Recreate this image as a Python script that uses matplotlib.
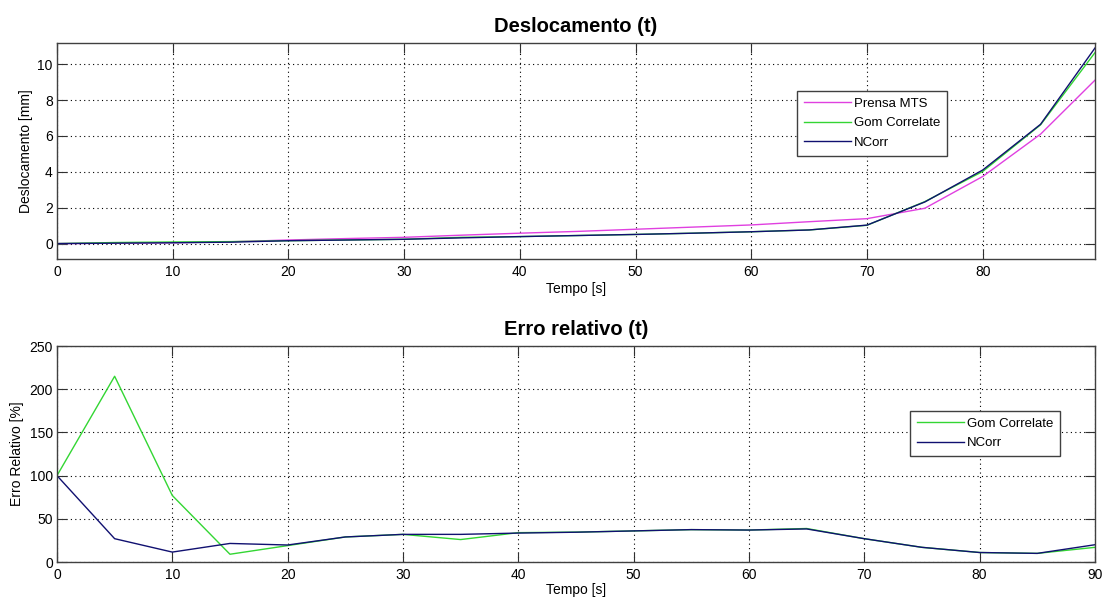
import matplotlib
matplotlib.use("Agg")
import matplotlib.pyplot as plt

# tempo [s]
tempo = [0, 5, 10, 15, 20, 25, 30, 35, 40, 45, 50, 55, 60, 65, 70, 75, 80, 85, 90]

# deslocamento [mm]
desl_mts = [0, 0.02, 0.05, 0.10, 0.20, 0.28, 0.35, 0.47, 0.58, 0.68,
            0.80, 0.92, 1.04, 1.22, 1.39, 1.97, 3.74, 6.10, 9.30]
desl_gom = [0, 0.06, 0.09, 0.11, 0.16, 0.20, 0.24, 0.35, 0.39, 0.45,
            0.51, 0.58, 0.66, 0.76, 1.02, 2.34, 4.02, 6.62, 10.90]
desl_ncorr = [0, 0.025, 0.045, 0.08, 0.16, 0.20, 0.24, 0.32, 0.39, 0.45,
              0.51, 0.58, 0.66, 0.76, 1.03, 2.32, 4.10, 6.65, 11.17]

# erro relativo [%]
erro_gom = [100, 215, 77, 9, 19, 29, 32, 26, 34, 34.6,
            36, 37.5, 37, 38.8, 27, 17, 11, 10, 17]
erro_ncorr = [100, 27, 11.5, 21.5, 19.7, 29, 32, 32, 33.5, 34.5,
              36, 37.5, 37, 38.3, 27, 17, 11, 10, 20]

C_MTS = "#e040e0"
C_GOM = "#33d633"
C_NCORR = "#101070"

plt.rcParams['font.family'] = ['Liberation Sans', 'DejaVu Sans']
plt.rcParams['font.size'] = 10

fig = plt.figure(figsize=(11.02, 6.0), dpi=100)
ax1 = fig.add_axes([0.0517, 0.568, 0.9419, 0.36])
ax2 = fig.add_axes([0.0517, 0.0633, 0.9419, 0.36])


def style(ax):
    ax.grid(True, linestyle=(0, (1, 3)), color="black", linewidth=0.8)
    ax.tick_params(direction="in", length=7.5, top=True, right=True,
                   color="#303030", labelsize=10)
    ax.tick_params(axis="x", pad=4)
    ax.tick_params(axis="y", pad=3)
    for s in ax.spines.values():
        s.set_color("#404040")
        s.set_linewidth(1.0)


def legend(ax, anchor):
    leg = ax.legend(loc="upper left", bbox_to_anchor=anchor, fancybox=False,
                    edgecolor="#404040", framealpha=1, handlelength=3.6,
                    borderaxespad=0, handletextpad=0.2, labelspacing=0.55,
                    borderpad=0.5, fontsize=9.5)
    leg.get_frame().set_linewidth(1.0)


ax1.plot(tempo, desl_mts, color=C_MTS, lw=1, label="Prensa MTS")
ax1.plot(tempo, desl_gom, color=C_GOM, lw=1, label="Gom Correlate")
ax1.plot(tempo, desl_ncorr, color=C_NCORR, lw=1, label="NCorr")
ax1.set_xlim(0, 89.7)
ax1.set_ylim(-0.87, 11.17)
ax1.set_xticks(range(0, 90, 10))
ax1.set_yticks(range(0, 11, 2))
style(ax1)
ax1.set_title("Deslocamento (t)", fontsize=14.5, fontweight="bold", pad=8)
ax1.set_xlabel("Tempo [s]", labelpad=2)
ax1.set_ylabel("Deslocamento [mm]", labelpad=3)
legend(ax1, (0.713, 0.778))

ax2.plot(tempo, erro_gom, color=C_GOM, lw=1, label="Gom Correlate")
ax2.plot(tempo, erro_ncorr, color=C_NCORR, lw=1, label="NCorr")
ax2.set_xlim(0, 90)
ax2.set_ylim(0, 250)
ax2.set_xticks(range(0, 91, 10))
ax2.set_yticks(range(0, 251, 50))
style(ax2)
ax2.set_title("Erro relativo (t)", fontsize=14.5, fontweight="bold", pad=8)
ax2.set_xlabel("Tempo [s]", labelpad=1)
ax2.set_ylabel("Erro Relativo [%]", labelpad=4)
legend(ax2, (0.822, 0.70))

fig.savefig("out.png", dpi=100)
